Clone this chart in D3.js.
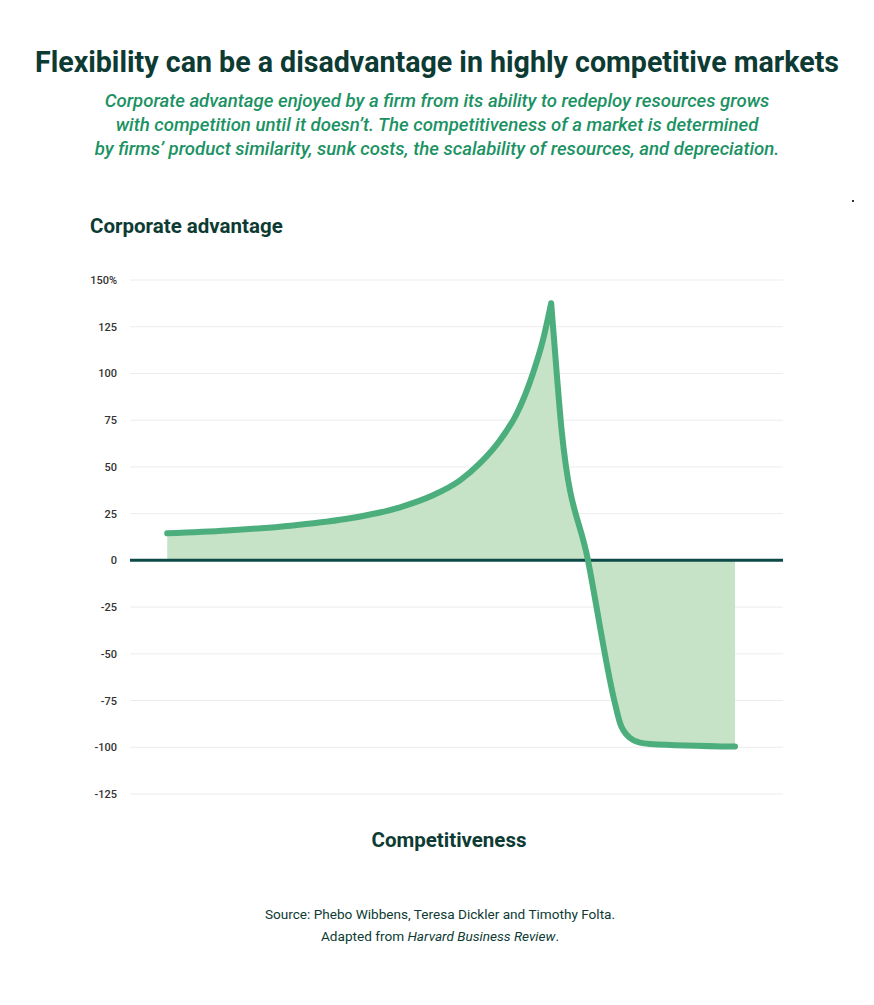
<!DOCTYPE html>
<html>
<head>
<meta charset="utf-8">
<script src="https://cdn.jsdelivr.net/npm/d3@7"></script>
<style>
  body { margin: 0; background: #fff; }
  svg { display: block; font-family: Roboto, "Noto Sans", sans-serif; }
</style>
</head>
<body>
<svg id="chart" width="874" height="1005"></svg>
<script>
// data (competitiveness index 0-100, corporate advantage in %)
const risingX = [5.7, 14.85, 24.96, 33.69, 41.35, 46.4, 50.54, 53.6, 56.66, 59.26, 61.7, 63.25, 64.5];
const risingY = [14.5, 16, 18.7, 22.5, 28.4, 34.8, 42.8, 52, 64.3, 78.7, 100, 118, 137.6];
const fallingX = [64.5, 65.35, 66.1, 70.14, 74.27, 75.04, 76.57, 78.1, 79.63, 92.65];
const fallingY = [137.6, 100, 69.6, 0, -76.6, -87, -95, -97.5, -98.2, -99.6];
const yTicks = [150, 125, 100, 75, 50, 25, 0, -25, -50, -75, -100, -125];

const title = "Flexibility can be a disadvantage in highly competitive markets";
const subtitle = [
  "Corporate advantage enjoyed by a firm from its ability to redeploy resources grows",
  "with competition until it doesn\u2019t. The competitiveness of a market is determined",
  "by firms\u2019 product similarity, sunk costs, the scalability of resources, and depreciation."
];

const svg = d3.select("#chart");

const x = d3.scaleLinear().domain([0, 100]).range([130, 783]);
const y = d3.scaleLinear().domain([-125, 150]).range([794, 280]);

// title
svg.append("text")
  .attr("x", 437).attr("y", 72)
  .attr("text-anchor", "middle")
  .attr("fill", "#0d3b33")
  .style("font-size", "28.6px").style("font-weight", 700)
  .text(title);

svg.append("g").selectAll("text")
  .data(subtitle)
  .join("text")
  .attr("x", 437)
  .attr("y", (d, i) => 107 + i * 24)
  .attr("text-anchor", "middle")
  .attr("fill", "#1b9263")
  .style("font-size", "18.6px").style("font-style", "italic").style("font-weight", 500)
  .text(d => d);

svg.append("text")
  .attr("x", 90).attr("y", 233)
  .attr("fill", "#0d3b33")
  .style("font-size", "20.5px").style("font-weight", 700)
  .text("Corporate advantage");

// gridlines
svg.append("g").selectAll("line")
  .data(yTicks.filter(d => d !== 0))
  .join("line")
  .attr("x1", 130).attr("x2", 783)
  .attr("y1", d => y(d)).attr("y2", d => y(d))
  .attr("stroke", "#ececec").attr("stroke-width", 1);

svg.append("g").selectAll("text")
  .data(yTicks)
  .join("text")
  .attr("x", 117)
  .attr("y", d => y(d) + 4)
  .attr("text-anchor", "end")
  .attr("fill", "#333")
  .style("font-size", "11px").style("font-weight", 500)
  .text(d => d === 150 ? "150%" : d);

const rising = risingX.map((v, i) => [v, risingY[i]]);
const falling = fallingX.map((v, i) => [v, fallingY[i]]);

const area = d3.area()
  .x(d => x(d[0])).y0(y(0)).y1(d => y(d[1]))
  .curve(d3.curveMonotoneX);
const line = d3.line()
  .x(d => x(d[0])).y(d => y(d[1]))
  .curve(d3.curveMonotoneX);

// one path for both pieces so no seam shows at the peak
svg.append("path")
  .attr("d", area(rising) + area(falling))
  .attr("fill", "#c6e3c8");

// zero line
svg.append("line")
  .attr("x1", 130).attr("x2", 783)
  .attr("y1", y(0)).attr("y2", y(0))
  .attr("stroke", "#0d4a48").attr("stroke-width", 3);

svg.append("path")
  .attr("d", line(rising) + line(falling))
  .attr("fill", "none")
  .attr("stroke", "#4cae7c")
  .attr("stroke-width", 6)
  .attr("stroke-linecap", "round")
  .attr("stroke-linejoin", "round");

svg.append("text")
  .attr("x", 449).attr("y", 847)
  .attr("text-anchor", "middle")
  .attr("fill", "#0d3b33")
  .style("font-size", "20.5px").style("font-weight", 700)
  .text("Competitiveness");

svg.append("text")
  .attr("x", 440).attr("y", 919)
  .attr("text-anchor", "middle")
  .attr("fill", "#0d3b33")
  .style("font-size", "13.6px")
  .text("Source: Phebo Wibbens, Teresa Dickler and Timothy Folta.");

const src2 = svg.append("text")
  .attr("x", 440).attr("y", 941)
  .attr("text-anchor", "middle")
  .attr("fill", "#0d3b33")
  .style("font-size", "13.6px");
src2.append("tspan").text("Adapted from ");
src2.append("tspan").style("font-style", "italic").text("Harvard Business Review");
src2.append("tspan").text(".");

svg.append("rect")
  .attr("x", 852).attr("y", 200).attr("width", 2).attr("height", 2)
  .attr("fill", "#333");
</script>
</body>
</html>
